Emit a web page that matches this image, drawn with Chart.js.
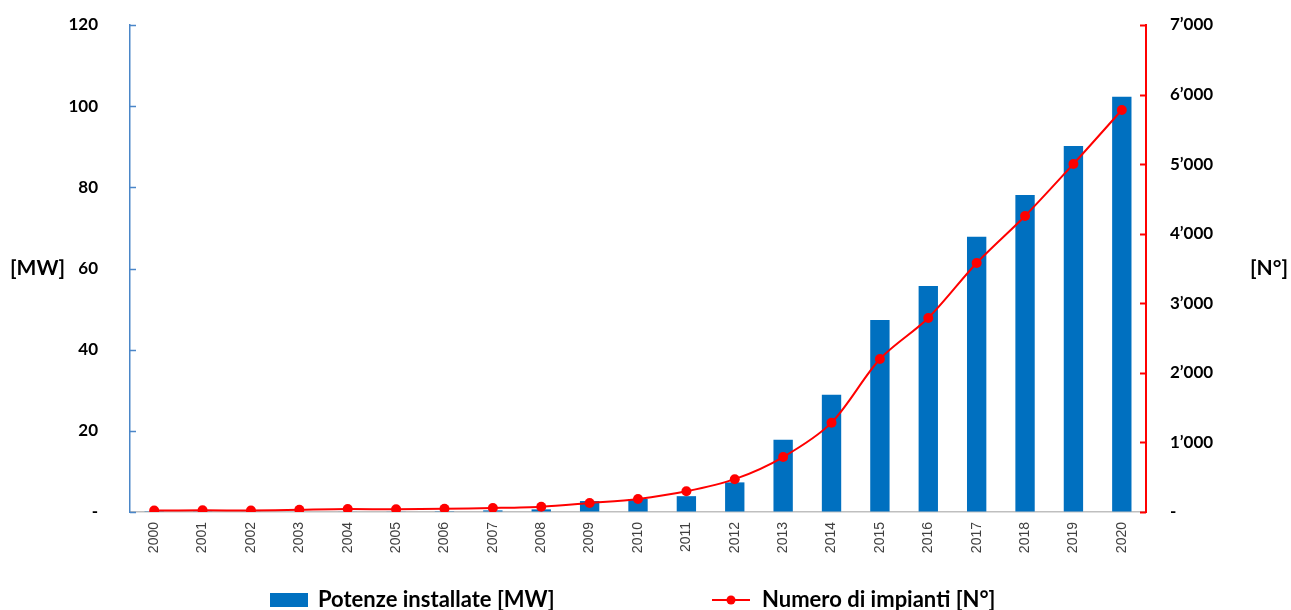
<!DOCTYPE html>
<html>
<head>
<meta charset="utf-8">
<script src="https://cdn.jsdelivr.net/npm/chart.js@4.4.1/dist/chart.umd.min.js"></script>
<style>
  html, body { margin: 0; padding: 0; background: #ffffff; }
  #wrap { position: relative; width: 1291px; height: 610px; }
</style>
</head>
<body>
<div id="wrap"><canvas id="c" width="1291" height="610"></canvas></div>
<script>
// Installed power (MW) and number of plants per year
const years = ['2000','2001','2002','2003','2004','2005','2006','2007','2008','2009','2010',
               '2011','2012','2013','2014','2015','2016','2017','2018','2019','2020'];
const powerMW = [0.05, 0.08, 0.1, 0.12, 0.14, 0.15, 0.2, 0.4, 0.65, 2.7, 3.2,
                 3.9, 7.3, 17.8, 28.9, 47.3, 55.7, 67.8, 78.1, 90.2, 102.3];
const plantCount = [20, 25, 22, 33, 43, 38, 47, 57, 76, 129, 187,
                    297, 472, 790, 1284, 2199, 2789, 3579, 4255, 5002, 5778];

const mwMax = 120, mwStep = 20;
const nMax = 7000, nStep = 1000;

const legendItems = ['Potenze installate [MW]', 'Numero di impianti [N°]'];
const axisTitles = ['[MW]', '[N°]'];

const BLUE = '#0070C0';
const AXIS_BLUE = '#4A86C8';
const RED = '#FF0000';
const LABEL_FONT = 'Lato, "Open Sans", sans-serif';

function fmtThousands(v) {
  if (v === 0) return '-';
  const s = String(Math.round(v));
  return s.replace(/\B(?=(\d{3})+(?!\d))/g, '\u2019');
}

// Inward tick marks, horizontal axis titles and the bottom legend
const decorations = {
  id: 'decorations',
  afterDraw(chart) {
    const ctx = chart.ctx;
    const yl = chart.scales.yMW, yr = chart.scales.yN;
    ctx.save();
    // tick marks pointing into the plot
    ctx.lineWidth = 1.5;
    ctx.strokeStyle = AXIS_BLUE;
    yl.ticks.forEach(t => {
      const p = Math.round(yl.getPixelForValue(t.value)) + 0.5;
      ctx.beginPath(); ctx.moveTo(yl.right, p); ctx.lineTo(yl.right + 6, p); ctx.stroke();
    });
    ctx.lineWidth = 2;
    ctx.strokeStyle = RED;
    yr.ticks.forEach(t => {
      const p = Math.round(yr.getPixelForValue(t.value)) + 0.5;
      ctx.beginPath(); ctx.moveTo(yr.left - 6, p); ctx.lineTo(yr.left, p); ctx.stroke();
    });

    // axis titles
    ctx.fillStyle = '#000000';
    ctx.font = 'bold 21px ' + LABEL_FONT;
    ctx.textBaseline = 'middle';
    const midY = yl.getPixelForValue(60);
    ctx.textAlign = 'left';
    ctx.fillText(axisTitles[0], 10, midY);
    ctx.textAlign = 'right';
    ctx.fillText(axisTitles[1], 1288, midY);

    // legend
    const base = 607, ly = 600;
    ctx.fillStyle = BLUE;
    ctx.fillRect(270, 593, 38, 14);
    ctx.fillStyle = '#000000';
    ctx.font = 'bold 22px ' + LABEL_FONT;
    ctx.textAlign = 'left';
    ctx.textBaseline = 'alphabetic';
    ctx.fillText(legendItems[0], 318, base);
    ctx.strokeStyle = RED;
    ctx.lineWidth = 2;
    ctx.beginPath(); ctx.moveTo(712, ly); ctx.lineTo(750, ly); ctx.stroke();
    ctx.fillStyle = RED;
    ctx.beginPath(); ctx.arc(731, ly, 4.5, 0, Math.PI * 2); ctx.fill();
    ctx.fillStyle = '#000000';
    ctx.fillText(legendItems[1], 762, base);
    ctx.restore();
  }
};

new Chart(document.getElementById('c'), {
  data: {
    labels: years,
    datasets: [
      {
        type: 'line',
        label: legendItems[1],
        data: plantCount,
        yAxisID: 'yN',
        borderColor: RED,
        backgroundColor: RED,
        borderWidth: 2,
        pointRadius: 5,
        pointBackgroundColor: RED,
        pointBorderWidth: 0,
        tension: 0.3,
        order: 0
      },
      {
        type: 'bar',
        label: legendItems[0],
        data: powerMW,
        yAxisID: 'yMW',
        backgroundColor: BLUE,
        categoryPercentage: 1,
        barPercentage: 0.4,
        order: 1
      }
    ]
  },
  options: {
    responsive: false,
    animation: false,
    layout: { padding: { top: 25, left: 0, right: 0, bottom: 0 } },
    plugins: { legend: { display: false }, tooltip: { enabled: false } },
    scales: {
      x: {
        offset: true,
        grid: { display: false, drawTicks: false },
        border: { color: '#BFBFBF', width: 1.5 },
        ticks: {
          minRotation: 90, maxRotation: 90, autoSkip: false, padding: 10,
          color: '#404040',
          font: { family: '"Liberation Sans", Arial, sans-serif', size: 14 }
        },
        afterFit(s) { s.height = 98; }
      },
      yMW: {
        position: 'left',
        min: 0, max: mwMax,
        grid: { drawOnChartArea: false, drawTicks: true, tickLength: 32, color: 'rgba(0,0,0,0)' },
        border: { color: AXIS_BLUE, width: 1.5 },
        ticks: {
          stepSize: mwStep, padding: 0, color: '#000000',
          font: { family: LABEL_FONT, size: 17, weight: 'bold' },
          callback: v => v === 0 ? '-' : String(v)
        },
        afterFit(s) { s.width = 130; }
      },
      yN: {
        position: 'right',
        min: 0, max: nMax,
        grid: { drawOnChartArea: false, drawTicks: true, tickLength: 24, color: 'rgba(0,0,0,0)' },
        border: { color: RED, width: 2 },
        ticks: {
          stepSize: nStep, padding: 0, color: '#000000',
          font: { family: LABEL_FONT, size: 17, weight: 'bold' },
          callback: v => fmtThousands(v)
        },
        afterFit(s) { s.width = 145; }
      }
    }
  },
  plugins: [decorations]
});
</script>
</body>
</html>
